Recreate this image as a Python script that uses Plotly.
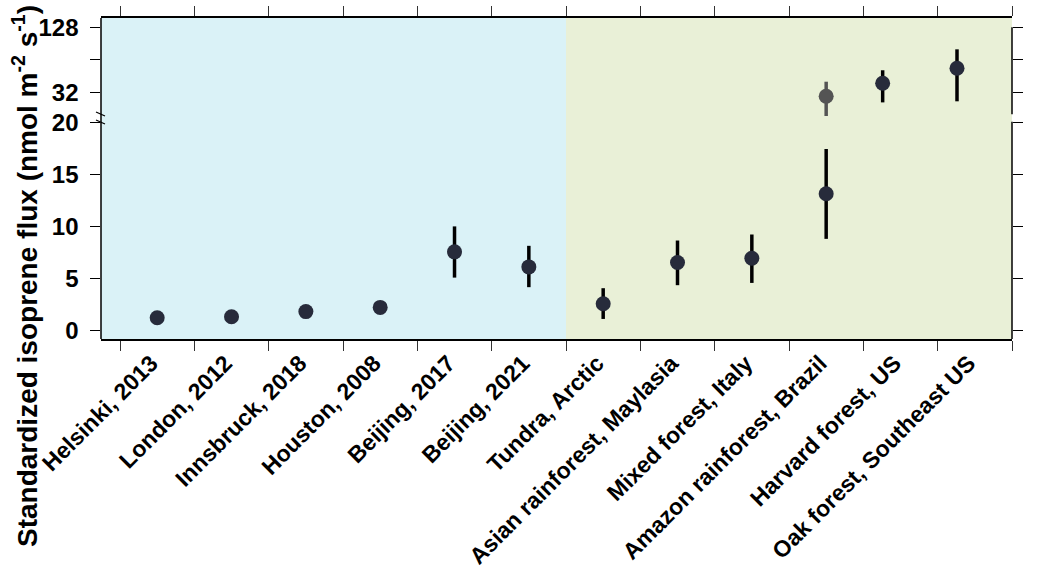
import plotly.graph_objects as go

# ---------------- data ----------------
categories = ["Helsinki, 2013", "London, 2012", "Innsbruck, 2018", "Houston, 2008",
              "Beijing, 2017", "Beijing, 2021", "Tundra, Arctic", "Asian rainforest, Maylasia",
              "Mixed forest, Italy", "Amazon rainforest, Brazil", "Harvard forest, US",
              "Oak forest, Southeast US"]

# lower (linear) panel
low_pos = [0, 1, 2, 3, 4, 5, 6, 7, 8, 9]
low_val = [1.2, 1.3, 1.8, 2.2, 7.55, 6.1, 2.56, 6.52, 6.94, 13.14]
low_lo = [1.2, 1.3, 1.8, 2.2, 5.07, 4.15, 1.09, 4.34, 4.56, 8.8]
low_hi = [1.2, 1.3, 1.8, 2.2, 10.0, 8.13, 4.05, 8.64, 9.22, 17.45]

# upper (log) panel
up_pos = [9.0, 9.76, 10.76]
up_val = [29.4, 38.8, 53.4]
up_lo = [19.3, 25.8, 26.4]
up_hi = [40.1, 51.2, 80.0]
up_colors = ["#545454", "#272b3b", "#272b3b"]
up_err_colors = ["#545454", "black", "black"]

low_ticks = [0, 5, 10, 15, 20]
up_ticks = [32, 128]
up_minor_ticks = [64]
boundaries = [i - 0.5 for i in range(13)]

# ---------------- geometry helpers ----------------
W, H = 1039, 574
L, R, T, B = 101, 1012, 18, 339
PH = B - T


def py(px):
    return (B - px) / PH


def pxx(px):
    return (px - L) / (R - L)


split_px = 122
dom_low = [0, py(split_px)]
dom_up = [py(split_px), 1]

font = "Liberation Sans, Arial, sans-serif"
navy = "#272b3b"

fig = go.Figure()

fig.add_trace(go.Scatter(
    x=low_pos, y=low_val, mode="markers", xaxis="x", yaxis="y",
    marker=dict(size=15, color=navy),
    error_y=dict(type="data", symmetric=False,
                 array=[h - v for h, v in zip(low_hi, low_val)],
                 arrayminus=[v - l for v, l in zip(low_val, low_lo)],
                 color="black", thickness=3.5, width=0),
    showlegend=False, cliponaxis=False))

for xp, v, lo, hi, c, ec in zip(up_pos, up_val, up_lo, up_hi, up_colors, up_err_colors):
    fig.add_trace(go.Scatter(
        x=[xp], y=[v], mode="markers", xaxis="x2", yaxis="y2",
        marker=dict(size=15, color=c),
        error_y=dict(type="data", symmetric=False, array=[hi - v], arrayminus=[v - lo],
                     color=ec, thickness=3.5, width=0),
        showlegend=False))

xr = [-0.756, 11.5]
axis_font = dict(family=font, size=19, color="black")

shapes = [
    dict(type="rect", xref="x", yref="paper", x0=xr[0], x1=5.5, y0=0, y1=1,
         fillcolor="#daf2f7", line=dict(width=0), layer="below"),
    dict(type="rect", xref="x", yref="paper", x0=5.5, x1=11.5, y0=0, y1=1,
         fillcolor="#e9f0d7", line=dict(width=0), layer="below"),
    # left axis line
    dict(type="line", xref="paper", yref="paper", x0=0, x1=0, y0=0, y1=1,
         line=dict(color="black", width=1.5)),
    # right axis segments
    dict(type="line", xref="paper", yref="paper", x0=1, x1=1, y0=py(114.3), y1=py(27.3),
         line=dict(color="black", width=1.5)),
    dict(type="line", xref="paper", yref="paper", x0=1, x1=1, y0=0, y1=py(121.7),
         line=dict(color="black", width=1.5)),
    # break marks
    dict(type="line", xref="paper", yref="paper", x0=pxx(96), x1=pxx(105), y0=py(112), y1=py(116),
         line=dict(color="black", width=1.2)),
    dict(type="line", xref="paper", yref="paper", x0=pxx(96), x1=pxx(105), y0=py(120), y1=py(124),
         line=dict(color="black", width=1.2)),
]

tickfont_y = dict(family=font, size=24, color="black", weight="bold")
gap = "\u00a0"

fig.update_layout(
    width=W, height=H,
    margin=dict(l=L, r=W - R, t=T, b=H - B, pad=0, autoexpand=False),
    paper_bgcolor="white", plot_bgcolor="rgba(0,0,0,0)",
    font=axis_font,
    shapes=shapes,
    xaxis=dict(domain=[0, 1], anchor="y", range=xr, tickmode="array",
               tickvals=list(range(12)), ticktext=categories, tickangle=-45,
               ticks="", showgrid=False, zeroline=False, showline=True,
               linecolor="black", linewidth=1.5, automargin=False, ticklabelshift=-6,
               tickfont=dict(family=font, size=23, color="black", weight="bold"),
               minor=dict(tickmode="array", tickvals=boundaries, ticks="outside",
                          ticklen=10, tickwidth=1.3, tickcolor="#333333", showgrid=False)),
    xaxis2=dict(domain=[0, 1], anchor="y2", side="top", range=xr, matches="x",
                showticklabels=False, tickmode="array", tickvals=list(range(12)),
                ticks="", showgrid=False, zeroline=False, showline=True,
                linecolor="black", linewidth=1.5, automargin=False,
                minor=dict(tickmode="array", tickvals=boundaries, ticks="outside",
                           ticklen=10, tickwidth=1.3, tickcolor="#333333", showgrid=False)),
    yaxis=dict(domain=dom_low, anchor="x", range=[-0.84, 20.05], tickmode="array",
               tickvals=low_ticks, ticktext=[f"{t}{gap}" for t in low_ticks],
               ticks="outside", ticklen=10, tickwidth=1.3,
               tickcolor="black", mirror="ticks", showline=False, showgrid=False,
               zeroline=False, automargin=False, tickfont=tickfont_y),
    yaxis2=dict(domain=dom_up, anchor="x2", type="log", range=[1.230, 2.1933],
                tickmode="array", tickvals=up_ticks, ticktext=[f"{t}{gap}" for t in up_ticks],
                ticks="outside", ticklen=10, tickwidth=1.3, tickcolor="black",
                mirror="ticks", showline=False, showgrid=False, zeroline=False,
                automargin=False, tickfont=tickfont_y,
                minor=dict(tickmode="array", tickvals=up_minor_ticks, ticks="outside",
                           ticklen=10, tickwidth=1.3, tickcolor="black", showgrid=False)),
    annotations=[dict(
        text="Standardized isoprene flux (nmol m<sup>-2</sup> s<sup>-1</sup>)",
        xref="paper", yref="paper", x=pxx(25), y=py(276), textangle=-90,
        showarrow=False, xanchor="center", yanchor="middle",
        font=dict(family=font, size=28, color="black", weight="bold"))],
)

fig.write_html("out.html", config={"displayModeBar": False},
               post_script="document.body.style.margin='0px';document.body.style.padding='0px';")
